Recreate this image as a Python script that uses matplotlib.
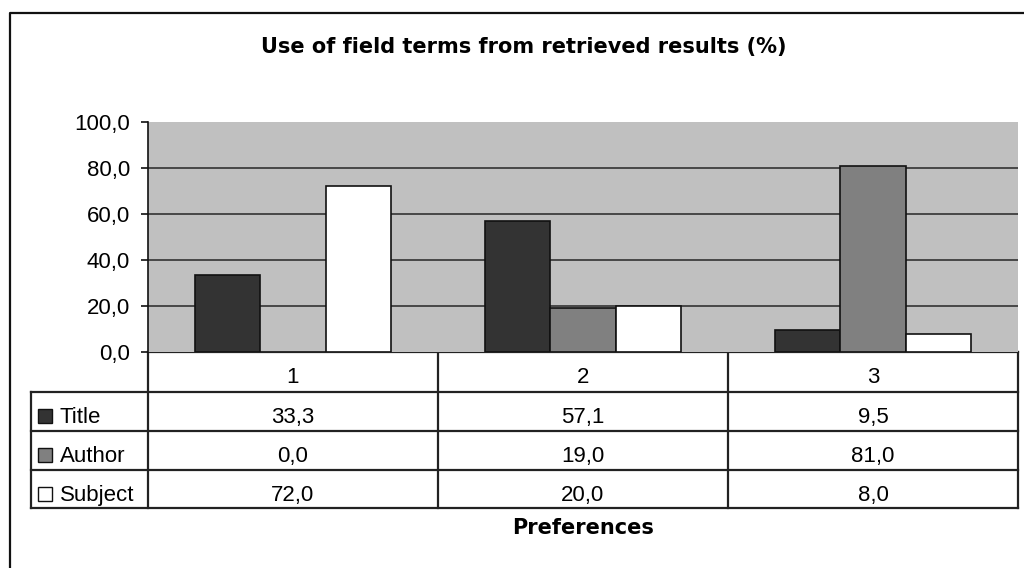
import matplotlib
matplotlib.use("Agg")
import matplotlib.pyplot as plt
from matplotlib.patches import Rectangle
from matplotlib.lines import Line2D

plt.rcParams['font.family'] = ['Liberation Sans', 'DejaVu Sans']

categories = ["1", "2", "3"]
series_names = ["Title", "Author", "Subject"]
title_vals = [33.3, 57.1, 9.5]
author_vals = [0.0, 19.0, 81.0]
subject_vals = [72.0, 20.0, 8.0]
series_vals = [title_vals, author_vals, subject_vals]
series_colors = ["#333333", "#808080", "#ffffff"]
yticks = [0, 20, 40, 60, 80, 100]

FS = 16
BOLD = dict(family=["DejaVu Sans"], fontweight="bold", fontsize=15)


def fmt(v):
    return f"{v:.1f}".replace(".", ",")


W, H = 1024, 568
fig = plt.figure(figsize=(W / 100, H / 100), dpi=100)

# overlay axes in pixel coordinates for the frame and the data table
ov = fig.add_axes([0, 0, 1, 1], zorder=0)
ov.set_xlim(0, W)
ov.set_ylim(H, 0)
ov.axis("off")

# plot area
px_l, px_r, px_t, px_b = 148, 1018, 122, 352
ax = fig.add_axes([px_l / W, (H - px_b) / H, (px_r - px_l) / W, (px_b - px_t) / H], zorder=2)
ax.set_facecolor("#c0c0c0")
ax.set_xlim(-0.5, len(categories) - 0.5)
ax.set_ylim(0, 100)
for s in ["top", "right", "bottom"]:
    ax.spines[s].set_visible(False)
ax.spines["left"].set_color("#111111")
ax.spines["left"].set_linewidth(1.2)
ax.set_yticks(yticks)
ax.set_yticklabels([fmt(v) for v in yticks], fontsize=FS)
ax.tick_params(axis="y", length=5, width=1.2, color="#111111", pad=8)
ax.set_xticks([])
for v in yticks[1:-1]:
    ax.axhline(v, color="#333333", lw=1.2, zorder=1)

bar_w = 0.225
for i, (vals, col) in enumerate(zip(series_vals, series_colors)):
    xs = [c + (i - 1) * bar_w for c in range(len(categories))]
    ax.bar(xs, vals, width=bar_w, color=col, edgecolor="#111111", linewidth=1.2, zorder=3)

fig.canvas.draw()
to_px = lambda x: ax.transData.transform((x, 0))[0]
col_edges = [to_px(c - 0.5) for c in range(len(categories) + 1)]
lab_l = 31

row_h = [352, 392, 431, 470, 508]
base_off = 31
lc = "#222222"
lw = 1.6

# column header row
for c, lab in enumerate(categories):
    ov.text((col_edges[c] + col_edges[c + 1]) / 2, row_h[0] + base_off, lab,
            ha="center", va="baseline", fontsize=FS)
# horizontal lines
ov.add_line(Line2D([col_edges[0], col_edges[-1]], [row_h[0], row_h[0]], color=lc, lw=lw))
for y in row_h[1:]:
    ov.add_line(Line2D([lab_l, col_edges[-1]], [y, y], color=lc, lw=lw))
# vertical lines
for x in col_edges:
    ov.add_line(Line2D([x, x], [row_h[0], row_h[-1]], color=lc, lw=lw))
ov.add_line(Line2D([lab_l, lab_l], [row_h[1], row_h[-1]], color=lc, lw=lw))

# data rows with legend keys
for r, (name, vals, col) in enumerate(zip(series_names, series_vals, series_colors)):
    yb = row_h[r + 1] + base_off
    ov.add_patch(Rectangle((38, yb - 14), 14, 14, facecolor=col, edgecolor="#111111", lw=1))
    ov.text(60, yb, name, ha="left", va="baseline", fontsize=FS)
    for c, v in enumerate(vals):
        ov.text((col_edges[c] + col_edges[c + 1]) / 2, yb, fmt(v),
                ha="center", va="baseline", fontsize=FS)

# chart frame
ov.add_line(Line2D([9.5, 9.5, W + 5], [H + 5, 12.5, 12.5], color="#111111", lw=1.6))

ov.text(524, 53.5, "Use of field terms from retrieved results (%)", ha="center",
        va="baseline", **BOLD)
ov.text((col_edges[0] + col_edges[-1]) / 2, 534, "Preferences", ha="center",
        va="baseline", **BOLD)

fig.savefig("out.png", dpi=100, facecolor="white")
